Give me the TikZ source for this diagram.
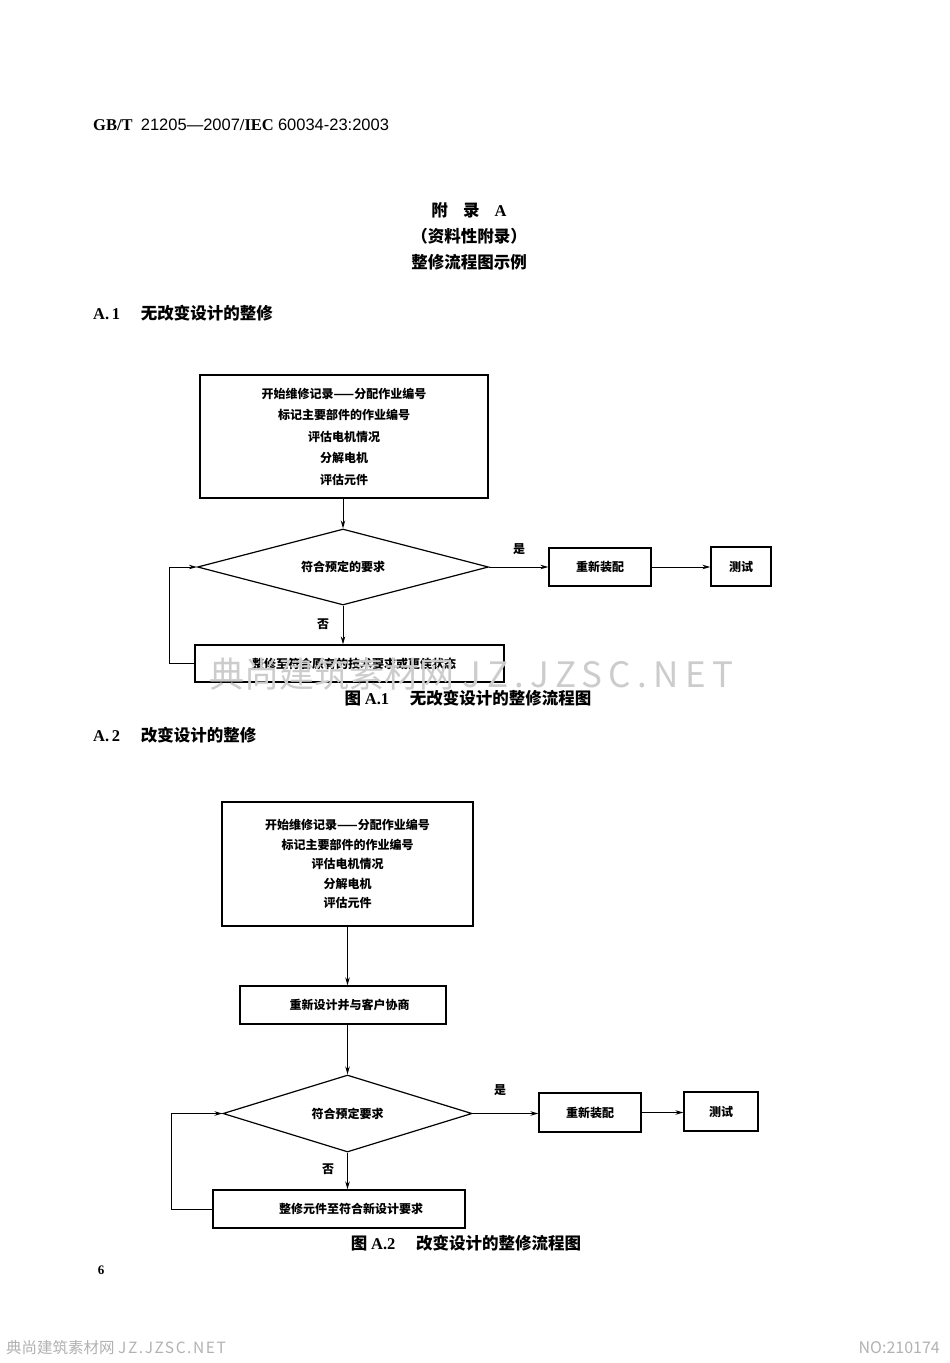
\documentclass[tikz,border=0pt]{standalone}
\usepackage{fontspec}
\setmainfont{Liberation Serif}
\setsansfont{Liberation Sans}
\newfontfamily\cjk{Noto Sans CJK SC}
\newfontfamily\cjkwide{Noto Sans CJK SC}[LetterSpace=10]
\newfontfamily\cjkwider{Noto Sans CJK SC}[LetterSpace=18]
\usetikzlibrary{shapes.geometric,arrows.meta}
\begin{document}
\begin{tikzpicture}[x=1pt,y=-1pt,
  box/.style={draw, line width=1.3pt, inner sep=0pt, align=center, font=\cjk\bfseries\fontsize{12}{21.5}\selectfont},
  dia/.style={draw, diamond, aspect=3.8, line width=1.2pt, inner sep=0pt, font=\cjk\bfseries\fontsize{12}{14}\selectfont},
  conn/.style={line width=1pt, -{Stealth[length=8pt,width=4.5pt]}},
  lbl/.style={font=\cjk\bfseries\fontsize{12}{14}\selectfont, inner sep=0pt},
  head/.style={font=\cjk\bfseries\fontsize{16.5}{18}\selectfont, inner sep=0pt, anchor=west},
  titl/.style={font=\cjk\bfseries\fontsize{16.5}{18}\selectfont, inner sep=0pt},
  capt/.style={font=\cjk\bfseries\fontsize{16.5}{18}\selectfont, inner sep=0pt},
  wm/.style={text=gray!40, inner sep=0pt}]
\useasboundingbox[fill=white] (0,0) rectangle (950,1363);

% header
\node[inner sep=0pt, anchor=west, font=\fontsize{16.5}{18}\selectfont] (hdr) at (93,125)
  {\bfseries GB/T\ \ \sffamily\mdseries 21205—2007\rmfamily\bfseries /IEC \sffamily\mdseries 60034-23:2003};

\node[titl] (t1) at (469,210) {附\ \ \ \ 录\ \ \ \ \rmfamily A};
\node[titl] (t2) at (469,236) {（资料性附录）};
\node[titl] (t3) at (469,262) {整修流程图示例};

\node[head] (h1) at (93,313) {\rmfamily A.\,1\quad\ \cjk 无改变设计的整修};

% ---------- Figure A.1 ----------
\node[box, minimum width=288pt, minimum height=123pt] (b1) at (344,436.5)
  {开始维修记录——分配作业编号\\标记主要部件的作业编号\\评估电机情况\\分解电机\\评估元件};
\node[dia, minimum width=291pt, minimum height=76pt] (d1) at (343,567) {符合预定的要求};
\node[box, minimum width=102pt, minimum height=38pt] (r1) at (600,567) {重新装配};
\node[box, minimum width=60pt, minimum height=39pt] (s1) at (741,566.5) {测试};
\node[box, minimum width=309pt, minimum height=37pt] (f1) at (349.5,663.5) {\hspace*{9pt}整修至符合原有的技术要求或更佳状态};
\node[lbl] (y1) at (519,549) {是};
\node[lbl] (n1) at (323,624) {否};
\coordinate (l1) at (169,663.5);

\draw[conn] (d1.north |- b1.south) -- (d1.north);
\draw[conn] (d1.east) -- (r1.west);
\draw[conn] (r1.east) -- (r1.east -| s1.west);
\draw[conn] (d1.south) -- (d1.south |- f1.north);
\draw[conn] (f1.west) -- (l1) |- (d1.west);

\node[capt] (c1) at (468,698) {图\ \rmfamily\bfseries A.1\quad\ \cjk 无改变设计的整修流程图};

\node[head] (h2) at (93,735) {\rmfamily A.\,2\quad\ \cjk 改变设计的整修};

% ---------- Figure A.2 ----------
\node[box, minimum width=251pt, minimum height=124pt, font=\cjk\bfseries\fontsize{12}{19.5}\selectfont] (b2) at (347.5,864)
  {开始维修记录——分配作业编号\\标记主要部件的作业编号\\评估电机情况\\分解电机\\评估元件};
\node[box, minimum width=206pt, minimum height=38pt] (c2) at (343,1005) {\hspace*{13pt}重新设计并与客户协商};
\node[dia, minimum width=249pt, minimum height=77pt] (d2) at (347.5,1113.5) {符合预定要求};
\node[box, minimum width=102pt, minimum height=39pt] (r2) at (590,1112.5) {重新装配};
\node[box, minimum width=74pt, minimum height=39pt] (s2) at (721,1111.5) {测试};
\node[box, minimum width=252pt, minimum height=38pt] (f2) at (339,1209) {\hspace*{24pt}整修元件至符合新设计要求};
\node[lbl] (y2) at (500,1090) {是};
\node[lbl] (n2) at (328,1169) {否};
\coordinate (l2) at (171,1209);

\draw[conn] (d2.north |- b2.south) -- (d2.north |- c2.north);
\draw[conn] (d2.north |- c2.south) -- (d2.north);
\draw[conn] (d2.east) -- (d2.east -| r2.west);
\draw[conn] (r2.east) -- (r2.east -| s2.west);
\draw[conn] (d2.south) -- (d2.south |- f2.north);
\draw[conn] (f2.west) -- (l2) |- (d2.west);

\node[capt] (c2c) at (466,1243) {图\ \rmfamily\bfseries A.2\quad\ \cjk 改变设计的整修流程图};

\node[inner sep=0pt, font=\rmfamily\bfseries\fontsize{13}{15}\selectfont] (pg) at (101,1270) {6};

% watermarks
\node[wm, anchor=west, font=\cjk\fontsize{35}{37}\selectfont] (wm1) at (209,674) {典尚建筑素材网 {\cjkwider JZ.JZSC.NET}};
\node[wm, anchor=west, text=gray!60, font=\cjk\fontsize{15.5}{17}\selectfont] (wm2) at (6,1348) {典尚建筑素材网 {\cjkwide JZ.JZSC.NET}};
\node[wm, anchor=east, text=gray!60, font=\cjk\fontsize{16}{17}\selectfont] (wm3) at (940,1348) {NO:210174};
\end{tikzpicture}
\end{document}
